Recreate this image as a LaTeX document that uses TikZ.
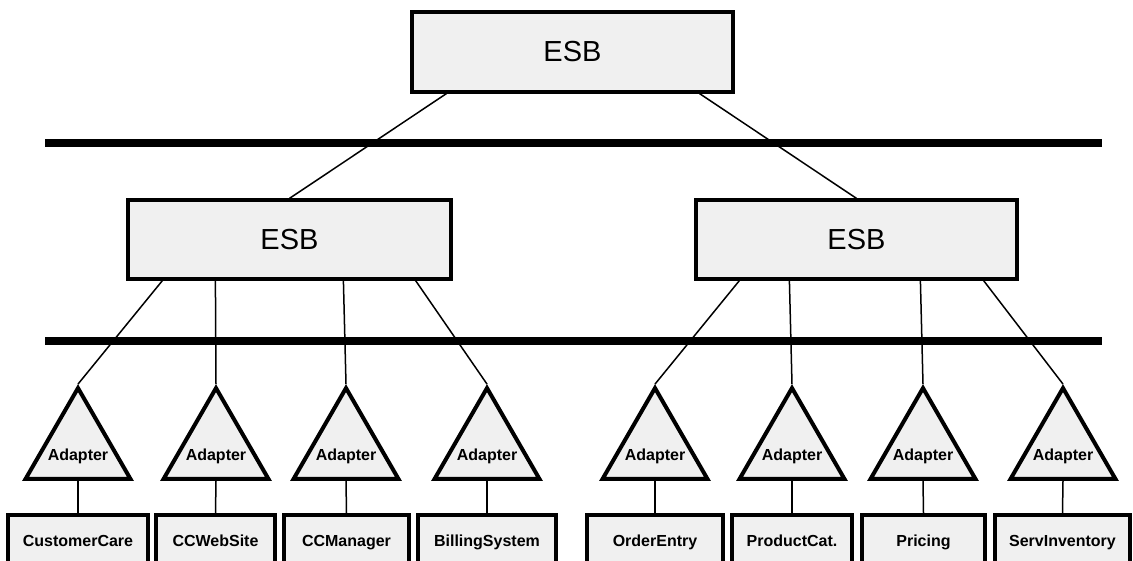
\documentclass[tikz,border=0pt]{standalone}
\usepackage{fontspec}
\setmainfont{Liberation Sans}
\usetikzlibrary{shapes.geometric}
\definecolor{boxfill}{HTML}{F0F0F0}
\tikzset{
  esbbox/.style={draw=black, line width=3.2pt, fill=boxfill, inner sep=0pt,
    minimum height=80pt, font=\fontsize{29}{34}\selectfont},
  sysbox/.style={draw=black, line width=4pt, fill=boxfill, inner sep=0pt,
    minimum height=54pt, text height=12pt, text depth=3.5pt,
    font=\fontsize{16}{19}\selectfont\bfseries},
  adapter/.style={regular polygon, regular polygon sides=3, draw=black,
    line width=4pt, fill=boxfill, inner sep=0pt, minimum size=121pt,
    font=\fontsize{16}{19}\selectfont\bfseries},
  wire/.style={draw=black, line width=1.5pt},
  busbar/.style={draw=black, line width=8pt}
}
% label set inside the triangle without widening it
\newcommand{\adaptertext}{\raisebox{-12pt}[0pt][0pt]{\makebox[0pt]{Adapter}}}
\begin{document}
\begin{tikzpicture}[x=1pt, y=-1pt]
  \useasboundingbox (0,0) rectangle (1133,561);
  \clip (0,0) rectangle (1133,561);
  \fill[white] (0,0) rectangle (1133,561);

  % bus bars
  \coordinate (busA west) at (45,143);
  \coordinate (busA east) at (1102,143);
  \coordinate (busB west) at (45,341);
  \coordinate (busB east) at (1102,341);
  \draw[busbar] (busA west) -- (busA east);
  \draw[busbar] (busB west) -- (busB east);

  % ESB hierarchy
  \node[esbbox, minimum width=321pt] (top) at (572.5,52) {ESB};
  \node[esbbox, minimum width=323pt, minimum height=79pt] (ml) at (289.5,239.5) {ESB};
  \node[esbbox, minimum width=321pt, minimum height=79pt] (mr) at (856.5,239.5) {ESB};

  % adapters
  \foreach \i/\x in {1/78,2/216,3/346,4/487,5/655,6/792,7/923,8/1063}{
    \node[adapter] (a\i) at (\x,448.6) {\adaptertext};
  }

  % systems
  \node[sysbox, minimum width=140pt] (s1) at (78,542) {CustomerCare};
  \node[sysbox, minimum width=119pt] (s2) at (215.5,542) {CCWebSite};
  \node[sysbox, minimum width=125pt] (s3) at (346.5,542) {CCManager};
  \node[sysbox, minimum width=138pt] (s4) at (487,542) {BillingSystem};
  \node[sysbox, minimum width=136pt] (s5) at (655,542) {OrderEntry};
  \node[sysbox, minimum width=120pt] (s6) at (792,542) {ProductCat.};
  \node[sysbox, minimum width=123pt] (s7) at (923.5,542) {Pricing};
  \node[sysbox, minimum width=135pt] (s8) at (1062.5,542) {ServInventory};

  % connectors
  \draw[wire] ([xshift=36pt]top.south west) -- (ml.north);
  \draw[wire] ([xshift=-35pt]top.south east) -- (mr.north);

  \draw[wire] ([xshift=36pt]ml.south west) -- (a1.corner 1);
  \draw[wire] ([xshift=89pt]ml.south west) -- (a2.corner 1);
  \draw[wire] ([xshift=217pt]ml.south west) -- (a3.corner 1);
  \draw[wire] ([xshift=-37pt]ml.south east) -- (a4.corner 1);

  \draw[wire] ([xshift=45pt]mr.south west) -- (a5.corner 1);
  \draw[wire] ([xshift=95pt]mr.south west) -- (a6.corner 1);
  \draw[wire] ([xshift=226pt]mr.south west) -- (a7.corner 1);
  \draw[wire] ([xshift=-35pt]mr.south east) -- (a8.corner 1);

  \foreach \i in {1,...,8}{
    \draw[wire] (a\i.south) -- (s\i.north);
  }
\end{tikzpicture}
\end{document}
